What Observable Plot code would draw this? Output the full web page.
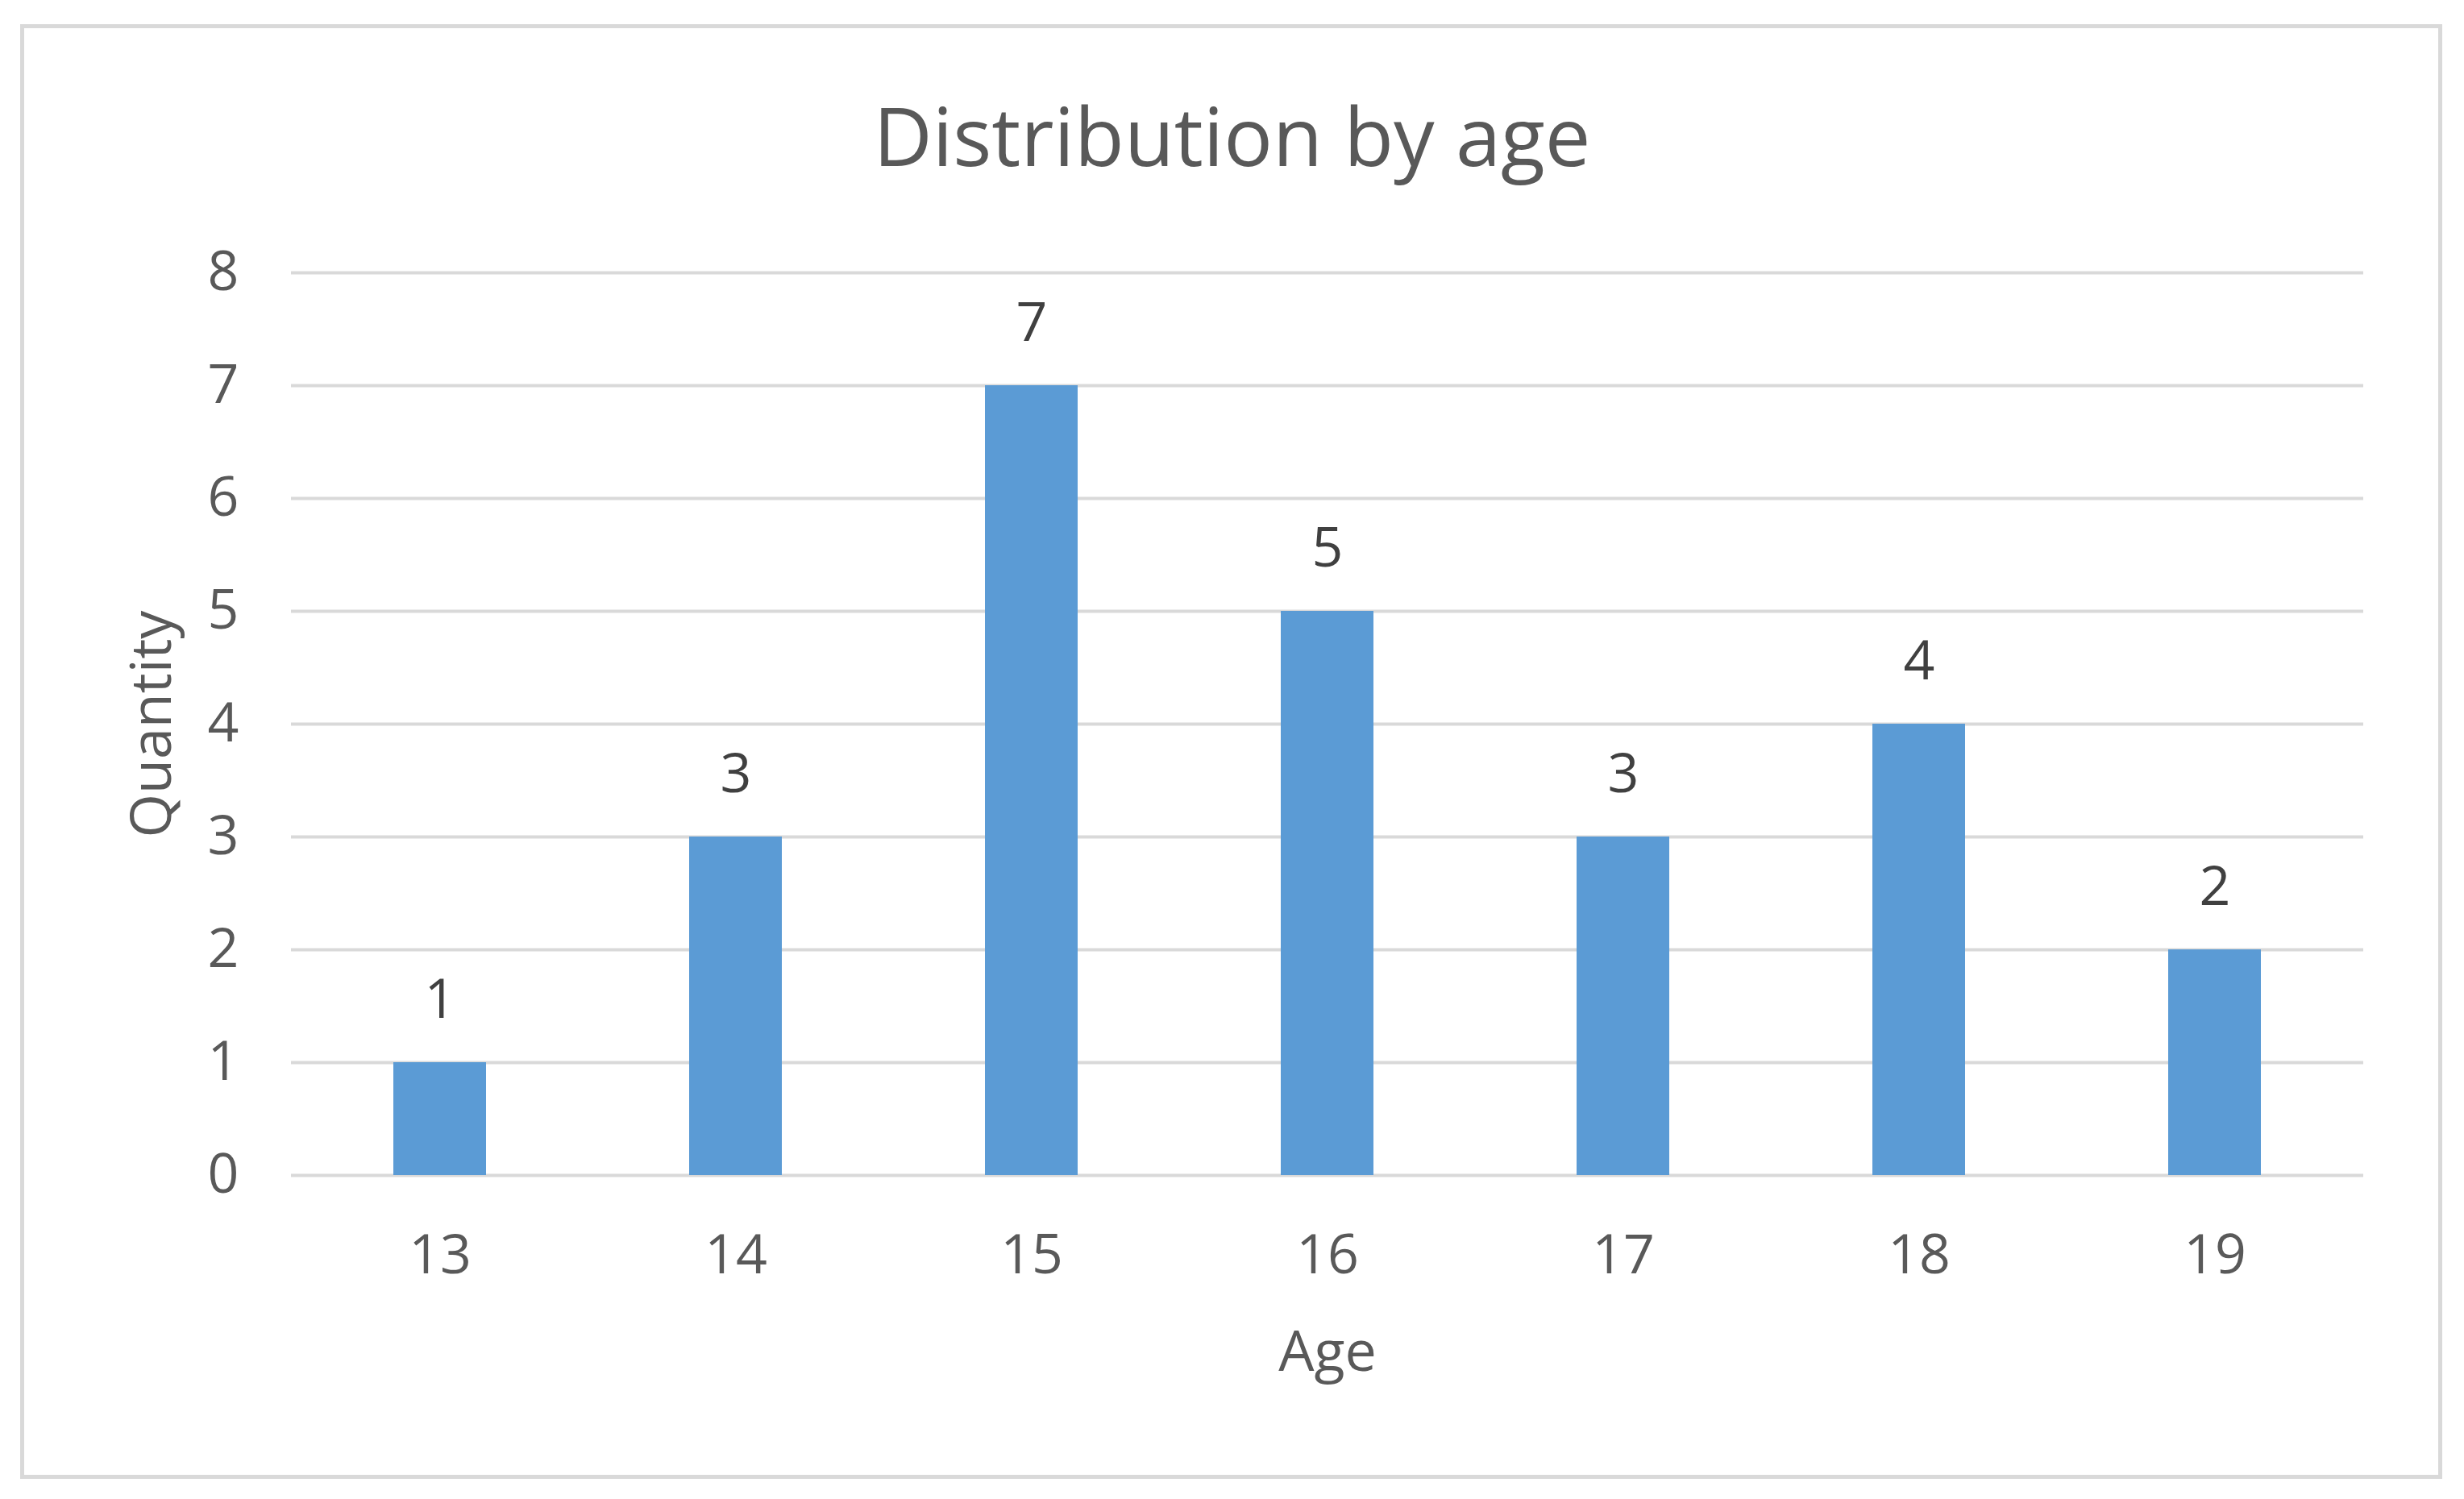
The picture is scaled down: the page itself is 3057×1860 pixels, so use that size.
<!DOCTYPE html>
<html>
<head>
<meta charset="utf-8">
<script src="https://cdn.jsdelivr.net/npm/d3@7"></script>
<script src="https://cdn.jsdelivr.net/npm/@observablehq/plot@0.6"></script>
<style>
  html, body { margin: 0; padding: 0; background: #ffffff; }
  body { width: 3057px; height: 1860px; position: relative; overflow: hidden; font-family: "Open Sans", "Noto Sans", sans-serif; }
  #frame { position: absolute; left: 25px; top: 30px; width: 3005px; height: 1805px; border: 5px solid #d9d9d9; box-sizing: border-box; }
  #title { position: absolute; left: 0; top: 117px; width: 3057px; text-align: center; font-size: 101px; line-height: 1; color: #595959; white-space: nowrap; }
  #chart { position: absolute; left: 0; top: 250px; }
</style>
</head>
<body>
<div id="frame"></div>
<div id="title">Distribution by age</div>
<div id="chart"></div>
<script>
const ages = ["13", "14", "15", "16", "17", "18", "19"];
const counts = [1, 3, 7, 5, 3, 4, 2];
const yTicks = [0, 1, 2, 3, 4, 5, 6, 7, 8];
const xLabel = "Age";
const yLabel = "Quantity";

const data = ages.map((a, i) => ({age: a, count: counts[i]}));

const chart = Plot.plot({
  width: 3057,
  height: 1520,
  marginLeft: 361,
  marginRight: 125,
  marginTop: 88,
  marginBottom: 312,
  style: {fontSize: "68px", fontFamily: "'Open Sans', 'Noto Sans', sans-serif", color: "#595959", background: "transparent"},
  x: {domain: ages, paddingInner: 0.687, paddingOuter: 0.3435, tickSize: 0, tickPadding: 73, label: null},
  y: {domain: [0, 8], ticks: yTicks, tickSize: 0, tickPadding: 65, label: null, tickFormat: d => String(d)},
  marks: [
    Plot.ruleY(yTicks, {stroke: "#d9d9d9", strokeWidth: 4}),
    Plot.barY(data, {x: "age", y: "count", fill: "#5b9bd5"}),
    Plot.text(data, {x: "age", y: "count", text: d => String(d.count), lineAnchor: "bottom", dy: -56, fill: "#404040", fontSize: 68}),
    Plot.text([xLabel], {frameAnchor: "bottom", dy: 242, fill: "#595959", fontSize: 70}),
    Plot.text([yLabel], {frameAnchor: "left", textAnchor: "middle", dx: -172, rotate: -90, fill: "#595959", fontSize: 70})
  ]
});
document.getElementById("chart").appendChild(chart);
</script>
</body>
</html>
